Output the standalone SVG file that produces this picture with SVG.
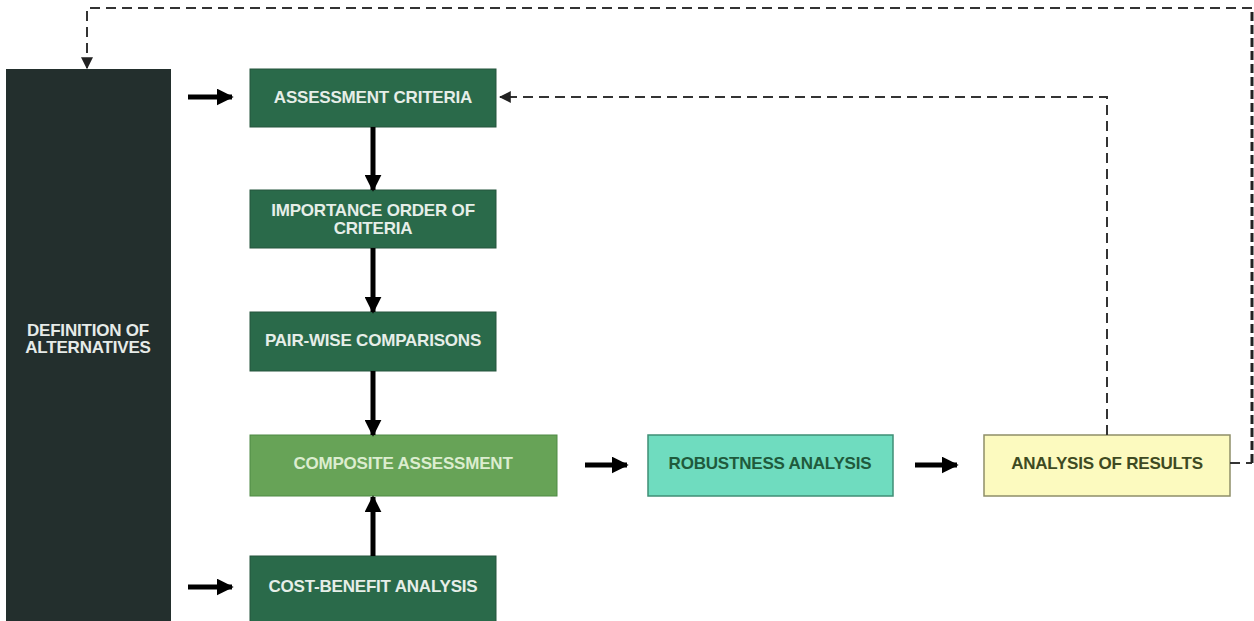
<svg xmlns="http://www.w3.org/2000/svg" width="1254" height="621" viewBox="0 0 1254 621">
<defs>
<marker id="ah" viewBox="0 0 10 10" refX="9" refY="5" markerWidth="3.4" markerHeight="3.4" orient="auto" markerUnits="strokeWidth">
<path d="M0,0 L10,5 L0,10 z" fill="#000"/>
</marker>
<marker id="dh" viewBox="0 0 10 10" refX="9" refY="5" markerWidth="6" markerHeight="6" orient="auto" markerUnits="strokeWidth">
<path d="M0,0 L10,5 L0,10 z" fill="#222"/>
</marker>
<style>
text{font-family:"Liberation Sans",Arial,sans-serif;font-weight:bold;font-size:17px;text-anchor:middle;letter-spacing:-0.2px}
.dk rect{fill:#2a6a4a;stroke:#24553c;stroke-width:1}
.dk text{fill:#e6eee8}
.flow{stroke:#000;stroke-width:5;fill:none;marker-end:url(#ah)}
.dash{stroke:#333;stroke-width:2;fill:none;stroke-dasharray:10 6}
</style>
</defs>
<rect width="1254" height="621" fill="#fff"/>
<g id="n-definition">
<rect x="6" y="69" width="165" height="560" fill="#232f2d"/>
<text x="88" y="336" fill="#e6ebe8">DEFINITION OF</text>
<text x="88" y="353" fill="#e6ebe8">ALTERNATIVES</text>
</g>
<g id="n-assessment" class="dk">
<rect x="250" y="69" width="246" height="58"/>
<text x="373" y="103">ASSESSMENT CRITERIA</text>
</g>
<g id="n-importance" class="dk">
<rect x="250" y="190" width="246" height="58"/>
<text x="373" y="216">IMPORTANCE ORDER OF</text>
<text x="373" y="234">CRITERIA</text>
</g>
<g id="n-pairwise" class="dk">
<rect x="250" y="312" width="246" height="59"/>
<text x="373" y="346">PAIR-WISE COMPARISONS</text>
</g>
<g id="n-composite">
<rect x="250" y="435" width="307" height="61" fill="#67a357" stroke="#4f8a44" stroke-width="1"/>
<text x="403" y="469" fill="#dcedcf">COMPOSITE ASSESSMENT</text>
</g>
<g id="n-costbenefit" class="dk">
<rect x="250" y="556" width="246" height="70"/>
<text x="373" y="592">COST-BENEFIT ANALYSIS</text>
</g>
<g id="n-robustness">
<rect x="648" y="435" width="245" height="61" fill="#6fdcbf" stroke="#3f8f76" stroke-width="1.5"/>
<text x="770" y="469" fill="#1f5a3c">ROBUSTNESS ANALYSIS</text>
</g>
<g id="n-results">
<rect x="984" y="435" width="246" height="61" fill="#fcfabf" stroke="#8e8e68" stroke-width="1.5"/>
<text x="1107" y="469" fill="#3e4a22">ANALYSIS OF RESULTS</text>
</g>
<g id="connectors">
<line class="flow" x1="188" y1="97" x2="232" y2="97"/>
<line class="flow" x1="188" y1="587" x2="232" y2="587"/>
<line class="flow" x1="373" y1="127" x2="373" y2="190"/>
<line class="flow" x1="373" y1="248" x2="373" y2="312"/>
<line class="flow" x1="373" y1="371" x2="373" y2="435"/>
<line class="flow" x1="373" y1="556" x2="373" y2="497"/>
<line class="flow" x1="585" y1="465" x2="627" y2="465"/>
<line class="flow" x1="915" y1="465" x2="957" y2="465"/>
<polyline class="dash" points="1107,435 1107,97 500,97" marker-end="url(#dh)"/>
<polyline class="dash" points="1230,463 1252,463"/>
<polyline class="dash" style="stroke-width:3;stroke-dasharray:9 4;stroke:#222" points="1252,463 1252,8"/>
<polyline class="dash" points="1252,8 87,8 87,68" marker-end="url(#dh)"/>
</g>
</svg>
